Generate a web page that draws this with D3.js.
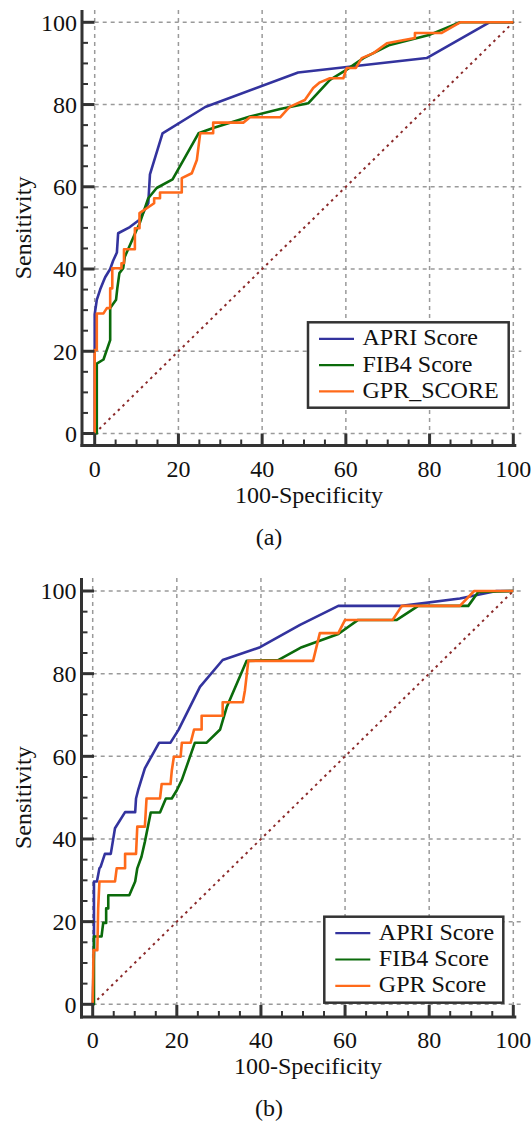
<!DOCTYPE html>
<html><head><meta charset="utf-8">
<script src="https://cdn.jsdelivr.net/npm/d3@7"></script>
<style>html,body{margin:0;padding:0;background:#fff;}svg{display:block;}</style>
</head><body>
<svg id="chart" width="531" height="1126"></svg>
<script>
// ---------- DATA ----------
const xTicks = [0, 20, 40, 60, 80, 100];
const yTicks = [0, 20, 40, 60, 80, 100];
const xTitle = "100-Specificity";
const yTitle = "Sensitivity";
const captions = ["(a)", "(b)"];
const legendA = ["APRI Score", "FIB4 Score", "GPR_SCORE"];
const legendB = ["APRI Score", "FIB4 Score", "GPR Score"];

// Panel (a)
const apriA = [[0,0],[0,21],[0,29],[0.5,32.5],[1.3,35],[2.1,37],[2.5,38],[3.7,40],[4.4,42],[5.3,44],[5.6,48.7],[8.4,50.2],[10.7,52],[12.8,56],[13.2,63],[16.2,73],[26.4,79.4],[48.6,87.8],[79.3,91.3],[94.3,100],[100,100]];
const fib4A = [[0,0],[0.5,0],[0.5,10],[0.5,17],[2.1,18],[3.7,22.7],[3.7,30.5],[5.1,32.5],[5.4,35.3],[5.9,39],[6.8,40.2],[7.2,43],[8.8,46.7],[10,49.5],[10.7,51],[12.8,57.2],[14.8,59.7],[18.6,61.8],[24.8,73],[28.3,74.3],[37.1,77.1],[44.3,78.9],[51,80.3],[56.2,86],[60.2,88.5],[64.2,91.3],[70.5,94.5],[80.1,97],[87.3,100],[100,100]];
const gprA = [[0,0],[0,20.3],[0.5,20.3],[0.5,29.2],[2.1,29.2],[2.9,30.5],[3.7,30.5],[3.7,35.3],[4.2,35.3],[4.2,40.2],[6.4,40.2],[6.4,41.4],[7,41.4],[7,44.8],[9.6,44.8],[9.6,49.9],[10.7,49.9],[10.7,53.6],[14.2,56],[14.2,57.2],[15.6,57.2],[15.6,58.6],[20.8,58.6],[20.8,62.1],[23.2,63.3],[24.4,66.5],[25.2,73],[28.3,73],[28.3,75.6],[35.5,75.6],[37.1,76.9],[44.3,76.9],[45.9,78.7],[46.7,79.5],[50.2,81.1],[52.2,84],[53.8,85.4],[56.2,86.4],[59.4,86.4],[60.2,88.9],[62.4,88.9],[63.8,91.3],[66.6,92.5],[69.8,94.9],[76.5,96.2],[76.5,97.4],[82.9,97.4],[87.3,100],[100,100]];

// Panel (b)
const apriB = [[0,0],[0.3,13],[0.3,29.7],[1,29.7],[1.6,32.9],[1.9,33.3],[2.9,36.4],[4.3,36.4],[5.3,42.6],[7.7,46.5],[10.1,46.5],[10.3,49.8],[10.8,51.8],[12.4,57.1],[15.8,63.3],[18.5,63.3],[20.4,66.4],[25.5,76.8],[30.9,83.3],[39.8,86.4],[49.3,91.8],[58.4,96.4],[73.5,96.4],[87.3,98.2],[96,100],[100,100]];
const fib4B = [[0,0],[0.3,0],[0.3,16.4],[2.1,16.4],[2.5,19.7],[3.2,19.7],[3.2,23.2],[3.7,23.2],[3.7,26.4],[8.7,26.4],[10.1,29.7],[10.6,32.9],[11.6,35.7],[12.4,39.3],[13.8,46.4],[16,46.4],[17.4,49.8],[18.8,49.8],[20,51.8],[21.2,54.3],[24.3,63.3],[27.1,63.3],[30.3,66.5],[31.9,72],[36.6,83.1],[44.1,83.3],[49.7,86.4],[58.4,89.6],[63.1,93],[72.3,93],[77.4,96.4],[89.3,96.4],[91.7,99.8],[100,100]];
const gprB = [[0,0],[0.2,13.1],[1.1,13.1],[1.3,23.2],[1.6,29.7],[5.3,29.7],[5.7,32.9],[7.7,32.9],[7.7,36.4],[10.3,36.4],[10.6,43],[12.4,43],[12.8,49.8],[16,49.8],[16.4,53.3],[18.5,53.3],[18.8,56.5],[19.3,59.9],[20.9,59.9],[21.2,63.3],[23.3,63.3],[24.1,66.5],[25.9,66.5],[25.9,69.8],[30.9,69.8],[30.9,73.1],[35.7,73.1],[36.2,76],[37,83.1],[52.4,83.1],[54,89.8],[58.4,89.8],[60,93],[71.3,93],[73.5,96.4],[87.3,96.4],[90.7,100],[100,100]];

const colors = ["#33339e", "#0b6b0b", "#ff6a1a"];

// ---------- LAYOUT ----------
const panels = [
  {series:[apriA,fib4A,gprA], legend:legendA, caption:captions[0],
   x0:94.7, x1:513.3, y0:433.5, y1:22.3, axX:82, axY:445.5, axTop:10,
   leg:{x:308, y:322.3, w:200.7, h:85.4}},
  {series:[apriB,fib4B,gprB], legend:legendB, caption:captions[1],
   x0:92.7, x1:513.3, y0:1004.3, y1:591, axX:81.5, axY:1017, axTop:578,
   leg:{x:324.3, y:916.7, w:179, h:86}}
];

const svg = d3.select("#chart");
const font = "'Liberation Serif','Times New Roman',serif";

panels.forEach(p => {
  const g = svg.append("g");
  const x = d3.scaleLinear().domain([0,100]).range([p.x0, p.x1]);
  const y = d3.scaleLinear().domain([0,100]).range([p.y0, p.y1]);
  const minor = d3.range(0, 101, 5);

  // grid
  g.append("g").selectAll("line").data(xTicks).join("line")
    .attr("x1", d => x(d)).attr("x2", d => x(d))
    .attr("y1", p.axTop).attr("y2", p.axY)
    .attr("stroke", "#9a9a9a").attr("stroke-width", 1.5).attr("stroke-dasharray", "4,4");
  g.append("g").selectAll("line").data(yTicks).join("line")
    .attr("x1", x(0)).attr("x2", x(100) + 8)
    .attr("y1", d => y(d)).attr("y2", d => y(d))
    .attr("stroke", "#9a9a9a").attr("stroke-width", 1.5).attr("stroke-dasharray", "4,4");

  // diagonal
  g.append("line")
    .attr("x1", x(0)).attr("y1", y(0)).attr("x2", x(100)).attr("y2", y(100))
    .attr("stroke", "#8b2a2a").attr("stroke-width", 2).attr("stroke-dasharray", "2.5,4");

  // curves
  const line = d3.line().x(d => x(d[0])).y(d => y(d[1]));
  p.series.forEach((s, i) => {
    g.append("path").datum(s).attr("d", line)
      .attr("fill", "none").attr("stroke", colors[i]).attr("stroke-width", 2.6)
      .attr("stroke-linejoin", "round");
  });

  // axes lines
  const axColor = "#333";
  g.append("line").attr("x1", p.axX).attr("x2", p.axX).attr("y1", p.axTop).attr("y2", p.axY + 1.5)
    .attr("stroke", axColor).attr("stroke-width", 3);
  g.append("line").attr("x1", p.axX - 1.5).attr("x2", x(100) + 3).attr("y1", p.axY).attr("y2", p.axY)
    .attr("stroke", axColor).attr("stroke-width", 3);

  // ticks
  g.append("g").selectAll("line").data(minor).join("line")
    .attr("x1", d => x(d)).attr("x2", d => x(d))
    .attr("y1", p.axY).attr("y2", d => p.axY - (d % 20 === 0 ? 12 : 6))
    .attr("stroke", axColor).attr("stroke-width", d => d % 20 === 0 ? 3 : 2);
  g.append("g").selectAll("line").data(minor).join("line")
    .attr("y1", d => y(d)).attr("y2", d => y(d))
    .attr("x1", p.axX).attr("x2", d => p.axX + (d % 20 === 0 ? 12.5 : 6))
    .attr("stroke", axColor).attr("stroke-width", d => d % 20 === 0 ? 3 : 2);

  // tick labels
  g.append("g").selectAll("text").data(xTicks).join("text")
    .attr("x", d => x(d)).attr("y", p.axY + 31)
    .attr("text-anchor", "middle").attr("font-family", font).attr("font-size", 24).attr("fill", "#111")
    .text(d => d);
  g.append("g").selectAll("text").data(yTicks).join("text")
    .attr("x", p.axX - 5).attr("y", d => y(d)).attr("dy", "0.35em")
    .attr("text-anchor", "end").attr("font-family", font).attr("font-size", 24).attr("fill", "#111")
    .text(d => d);

  // titles
  g.append("text").attr("x", (x(0) + x(100)) / 2 + 5).attr("y", p.axY + 57)
    .attr("text-anchor", "middle").attr("font-family", font).attr("font-size", 24).attr("fill", "#111")
    .text(xTitle);
  g.append("text").attr("transform", `translate(31,${y(50)}) rotate(-90)`)
    .attr("text-anchor", "middle").attr("font-family", font).attr("font-size", 24).attr("fill", "#111")
    .text(yTitle);
  g.append("text").attr("x", 269).attr("y", p.axY + 99)
    .attr("text-anchor", "middle").attr("font-family", font).attr("font-size", 24).attr("fill", "#111")
    .text(p.caption);

  // legend
  const L = p.leg;
  g.append("rect").attr("x", L.x).attr("y", L.y).attr("width", L.w).attr("height", L.h)
    .attr("fill", "#fff").attr("stroke", "#333").attr("stroke-width", 2.5);
  p.legend.forEach((t, i) => {
    const by = L.y + 23 + i * 26.3;
    g.append("line").attr("x1", L.x + 11).attr("x2", L.x + 46).attr("y1", by - 6.5).attr("y2", by - 6.5)
      .attr("stroke", colors[i]).attr("stroke-width", 2.2);
    g.append("text").attr("x", L.x + 54.5).attr("y", by)
      .attr("font-family", font).attr("font-size", 24).attr("fill", "#111").text(t);
  });
});
</script>
</body></html>
